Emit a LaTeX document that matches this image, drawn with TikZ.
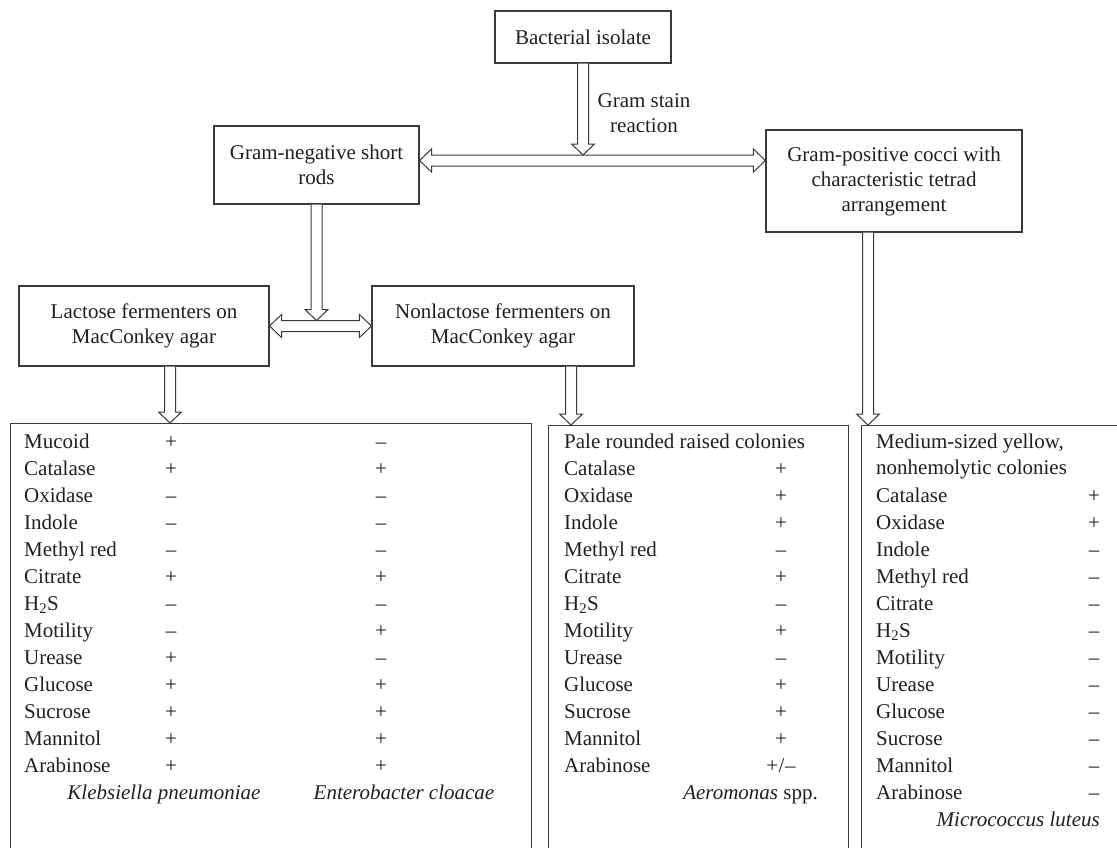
\documentclass[tikz,border=0pt]{standalone}
\usepackage{fontspec}
\setmainfont{Liberation Serif}
\usetikzlibrary{calc}
\definecolor{linec}{HTML}{3A3A3A}
\definecolor{txtc}{HTML}{231F20}
\tikzset{
  box/.style={draw=linec, line width=1.1pt, rectangle, inner sep=0pt, align=center,
              font=\fontsize{21}{25}\selectfont, text=txtc},
  blk/.style={draw=linec, line width=1pt, fill=white, line join=miter},
  txt/.style={font=\fontsize{21}{25}\selectfont, text=txtc, inner sep=0pt},
}
\newcommand\pmslash{+\kern0.5pt/\kern0.5pt–}
% single down block arrow from #1 to tip #2
\newcommand\vdownarrow[2]{%
  \draw[blk] ($(#1)+(-5.5,0)$) -- ($(#2)+(-5.5,11)$) -- ($(#2)+(-11.5,11)$) -- (#2)
    -- ($(#2)+(11.5,11)$) -- ($(#2)+(5.5,11)$) -- ($(#1)+(5.5,0)$);}
% horizontal double-headed block arrow from #1 (left tip) to #2 (right tip)
\newcommand\hdoublearrow[2]{%
  \draw[blk] (#1) -- ($(#1)+(12,11.5)$) -- ($(#1)+(12,5.5)$) -- ($(#2)+(-12,5.5)$)
    -- ($(#2)+(-12,11.5)$) -- (#2) -- ($(#2)+(-12,-11.5)$) -- ($(#2)+(-12,-5.5)$)
    -- ($(#1)+(12,-5.5)$) -- ($(#1)+(12,-11.5)$) -- cycle;}
\begin{document}
\begin{tikzpicture}[x=1pt,y=1pt]
\useasboundingbox (0,0) rectangle (1117,-847);
\clip (0,0) rectangle (1117,-847);
\fill[white] (0,0) rectangle (1117,-847);

% boxes
\node[box, minimum width=176pt, minimum height=52pt] (iso) at (583,-37) {Bacterial isolate};
\node[box, minimum width=205pt, minimum height=78pt] (gneg) at (316.5,-165) {Gram-negative short\\rods};
\node[box, minimum width=256pt, minimum height=102pt] (gpos) at (894,-181) {Gram-positive cocci with\\characteristic tetrad\\arrangement};
\node[box, minimum width=250pt, minimum height=80pt] (lac) at (144,-326) {Lactose fermenters on\\MacConkey agar};
\node[box, minimum width=262pt, minimum height=80pt] (nonlac) at (503,-326) {Nonlactose fermenters on\\MacConkey agar};

\node[box, minimum width=521pt, minimum height=477pt, anchor=north west] (t1) at (10,-423) {};
\node[box, minimum width=300pt, minimum height=477pt, anchor=north west] (t2) at (548,-425) {};
\node[box, minimum width=279pt, minimum height=477pt, anchor=north west] (t3) at (861,-425) {};

\node[txt, align=center] (gsr) at (644,-113) {Gram stain\\reaction};

% helper coordinates
\coordinate (gmid) at (583,-160.5);
\coordinate (gtop) at (583,-155);
\coordinate (ltop) at (0,-320.5);
\coordinate (a1) at (170,0);
\coordinate (a2) at (571,0);
\coordinate (a3) at (868,0);

% connectors
\hdoublearrow{gneg.east |- gmid}{gpos.west |- gmid}
\hdoublearrow{lac.east}{nonlac.west}
\vdownarrow{iso.south}{iso.south |- gtop}
\vdownarrow{gneg.south}{gneg.south |- ltop}
\vdownarrow{a1 |- lac.south}{a1 |- t1.north}
\vdownarrow{a2 |- nonlac.south}{a2 |- t2.north}
\vdownarrow{a3 |- gpos.south}{a3 |- t3.north}

% table 1
\foreach \lab/\sa/\sb [count=\i from 0] in {Mucoid/+/–, Catalase/+/+, Oxidase/–/–, Indole/–/–,
   Methyl red/–/–, Citrate/+/+, {H\textsubscript{2}S}/–/–, Motility/–/+, Urease/+/–,
   Glucose/+/+, Sucrose/+/+, Mannitol/+/+, Arabinose/+/+} {
  \node[txt, anchor=mid west] (ta\i) at (24,{-446-27*\i}) {\lab};
  \node[txt, anchor=mid] (tb\i) at (171,{-446-27*\i}) {\sa};
  \node[txt, anchor=mid] (tc\i) at (381,{-446-27*\i}) {\sb};
}
\node[txt, anchor=mid] (kp) at (164,-797) {\textit{Klebsiella pneumoniae}};
\node[txt, anchor=mid] (ec) at (404,-797) {\textit{Enterobacter cloacae}};

% table 2
\node[txt, anchor=mid west] (ma0) at (564,-446) {Pale rounded raised colonies};
\foreach \lab/\sa [count=\i from 1] in {Catalase/+, Oxidase/+, Indole/+, Methyl red/–,
   Citrate/+, {H\textsubscript{2}S}/–, Motility/+, Urease/–, Glucose/+, Sucrose/+,
   Mannitol/+, Arabinose/\pmslash} {
  \node[txt, anchor=mid west] (ma\i) at (564,{-446-27*\i}) {\lab};
  \node[txt, anchor=mid] (mb\i) at (781,{-446-27*\i}) {\sa};
}
\node[txt, anchor=mid east] (aer) at (818,-797) {\textit{Aeromonas} spp.};

% table 3
\node[txt, anchor=mid west] (ra0) at (876,-446) {Medium-sized yellow,};
\node[txt, anchor=mid west] (ra1) at (876,-472) {nonhemolytic colonies};
\foreach \lab/\sa [count=\i from 2] in {Catalase/+, Oxidase/+, Indole/–, Methyl red/–,
   Citrate/–, {H\textsubscript{2}S}/–, Motility/–, Urease/–, Glucose/–, Sucrose/–,
   Mannitol/–, Arabinose/–} {
  \node[txt, anchor=mid west] (ra\i) at (876,{-446-27*\i}) {\lab};
  \node[txt, anchor=mid] (rb\i) at (1094,{-446-27*\i}) {\sa};
}
\node[txt, anchor=mid east] (ml) at (1100,-824) {\textit{Micrococcus luteus}};
\end{tikzpicture}
\end{document}
